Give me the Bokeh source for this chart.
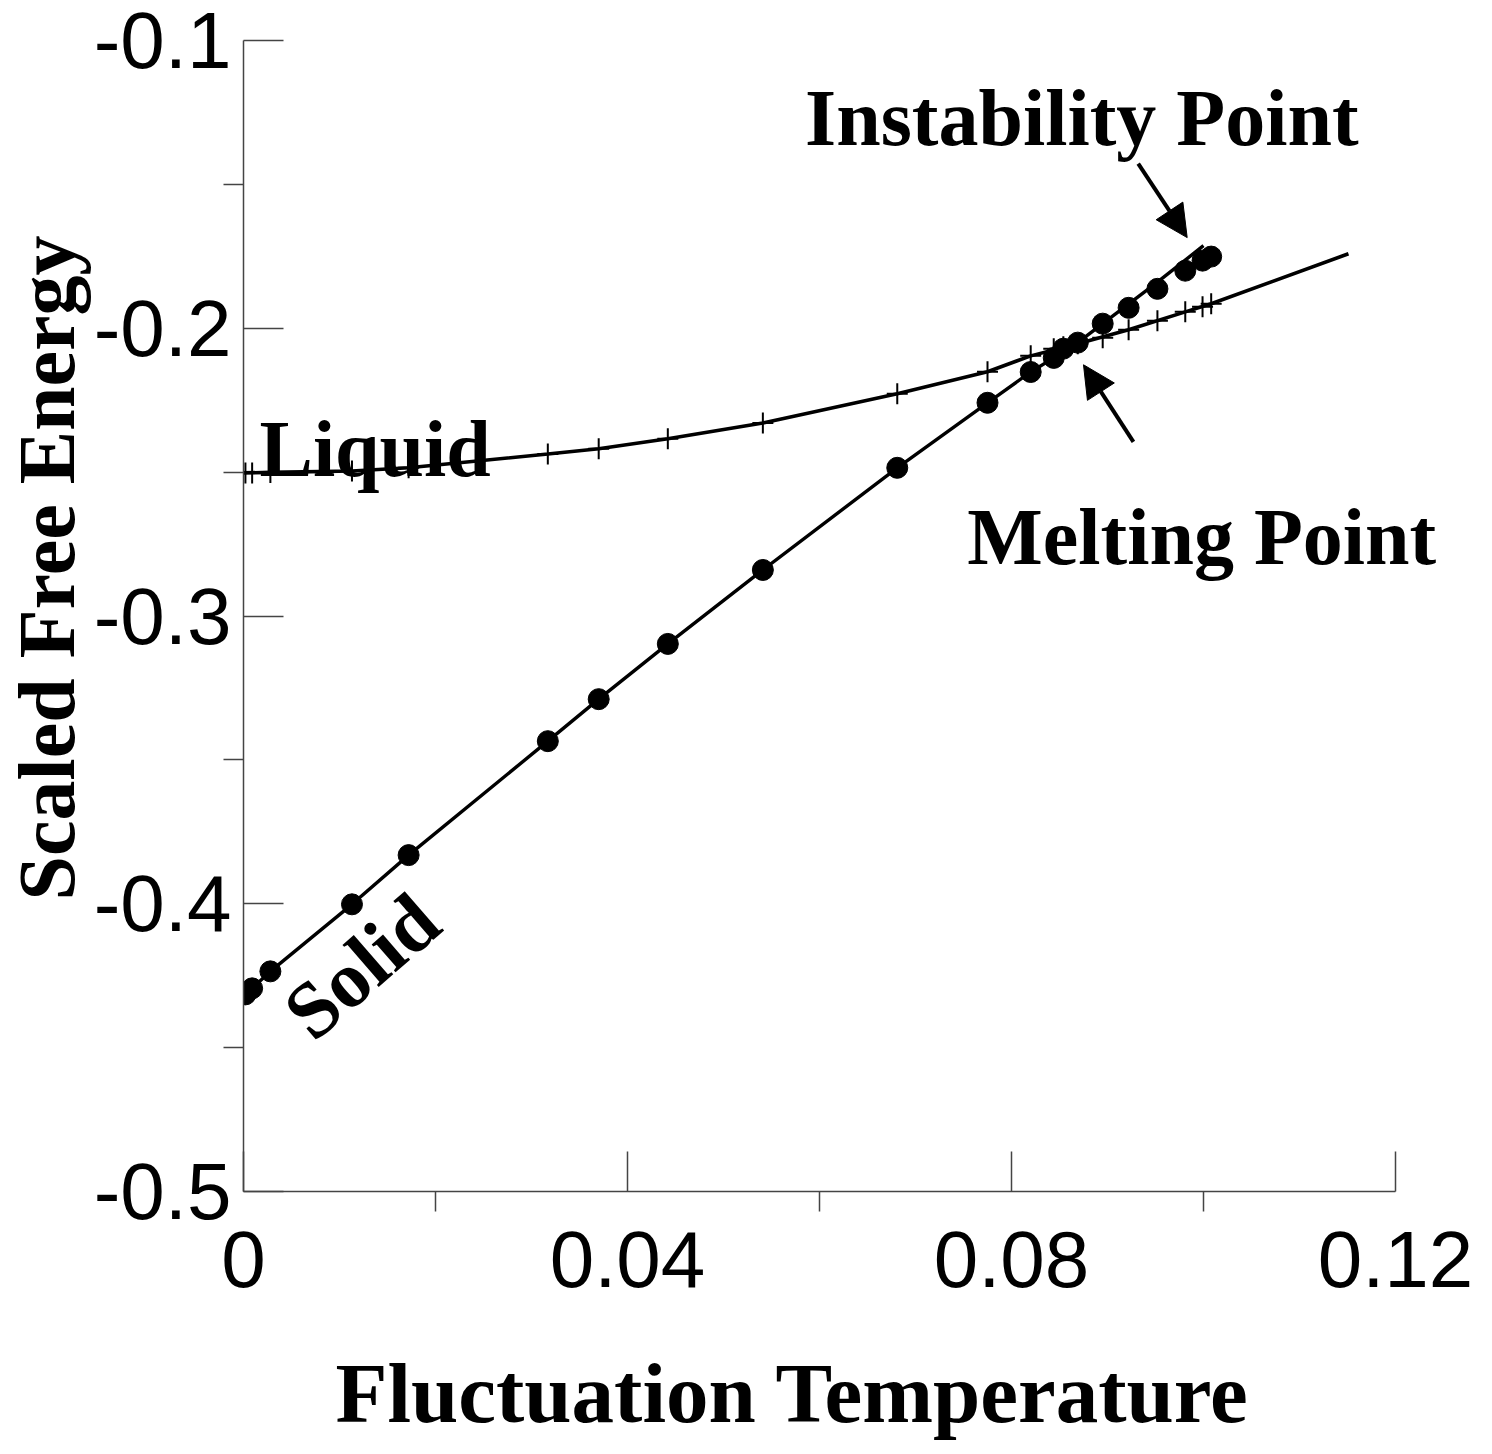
from bokeh.plotting import figure
from bokeh.models import (Range1d, FixedTicker, Label, Arrow, NormalHead, Title, LinearAxis)
from bokeh.embed import file_html
from bokeh.resources import INLINE

# Solid phase data (filled circles)
solid_t = [0.0002, 0.0009, 0.0028, 0.0113, 0.0172, 0.0317, 0.0370, 0.0442, 0.0541,
           0.0681, 0.0775, 0.0820, 0.0844, 0.0854, 0.0869, 0.0895, 0.0922, 0.0952,
           0.0981, 0.0999, 0.1008]
solid_f = [-0.4315, -0.4294, -0.4235, -0.4002, -0.3831, -0.3435, -0.3289, -0.3097, -0.2840,
           -0.2485, -0.2259, -0.2152, -0.2103, -0.2071, -0.2050, -0.1984, -0.1929, -0.1863,
           -0.1800, -0.1765, -0.1751]

# Solid phase curve
solid_curve_t = [0.0002, 0.0009, 0.0028, 0.0113, 0.0172, 0.0317, 0.0370, 0.0442, 0.0541,
                 0.0681, 0.0775, 0.0820, 0.0844, 0.0854, 0.0869, 0.0895, 0.0950, 0.1000]
solid_curve_f = [-0.4315, -0.4294, -0.4235, -0.4002, -0.3831, -0.3435, -0.3289, -0.3097, -0.2840,
                 -0.2485, -0.2259, -0.2152, -0.2103, -0.2071, -0.2050, -0.1984, -0.1845, -0.1713]

# Liquid phase data (crosses)
liquid_t = [0.0002, 0.0009, 0.0028, 0.0113, 0.0172, 0.0317, 0.0370, 0.0442, 0.0541,
            0.0681, 0.0775, 0.0820, 0.0844, 0.0854, 0.0869, 0.0895, 0.0922, 0.0952,
            0.0981, 0.0999, 0.1008]
liquid_f = [-0.2503, -0.2503, -0.2501, -0.2496, -0.2485, -0.2437, -0.2419, -0.2384, -0.2329,
            -0.2228, -0.2151, -0.2096, -0.2071, -0.2064, -0.2054, -0.2033, -0.2005, -0.1974,
            -0.1943, -0.1925, -0.1915]

# Liquid phase curve
liquid_curve_t = [-0.0008, 0.0028, 0.0113, 0.0172, 0.0317, 0.0370, 0.0442, 0.0541, 0.0681,
                  0.0775, 0.0820, 0.0869, 0.0922, 0.0981, 0.1008, 0.1151]
liquid_curve_f = [-0.2503, -0.2501, -0.2496, -0.2485, -0.2437, -0.2419, -0.2384, -0.2329, -0.2228,
                  -0.2151, -0.2096, -0.2054, -0.2005, -0.1943, -0.1915, -0.1741]

x_major = [0.0, 0.04, 0.08, 0.12]
x_minor = [0.02, 0.06, 0.10]
y_major = [-0.5, -0.4, -0.3, -0.2, -0.1]
y_minor = [-0.45, -0.35, -0.25, -0.15]

x_title = "Fluctuation Temperature"
y_title = "Scaled Free Energy"

p = figure(output_backend="svg", toolbar_location=None,
           x_range=Range1d(0.0, 0.13), y_range=Range1d(-0.5, -0.1),
           frame_width=1248, frame_height=1151,
           min_border_left=243, min_border_top=40, min_border_bottom=263, min_border_right=1)
p.outline_line_color = None
p.grid.visible = False
p.background_fill_color = "white"
p.border_fill_color = "white"

# Curves
p.line(liquid_curve_t, liquid_curve_f, line_color="black", line_width=3.6)
p.line(solid_curve_t, solid_curve_f, line_color="black", line_width=3.4)
p.scatter(liquid_t, liquid_f, marker="cross", size=21, line_color="black", line_width=2)
p.scatter(solid_t, solid_f, marker="circle", size=21, fill_color="black", line_color="black")

# Axes
for ax in (p.xaxis[0], p.yaxis[0]):
    ax.axis_line_color = "#444444"
    ax.axis_line_width = 1.5
    ax.major_tick_line_color = "#444444"
    ax.minor_tick_line_color = "#444444"
    ax.major_tick_line_width = 1.5
    ax.minor_tick_line_width = 1.5
    ax.major_tick_in = 40
    ax.major_tick_out = 0
    ax.minor_tick_in = 0
    ax.minor_tick_out = 20
    ax.major_label_text_font = "Liberation Sans"
    ax.major_label_text_font_size = "80px"
    ax.major_label_text_color = "black"

p.xaxis[0].ticker = FixedTicker(ticks=x_major, minor_ticks=x_minor)
p.yaxis[0].ticker = FixedTicker(ticks=y_major, minor_ticks=y_minor)
p.xaxis[0].bounds = (0.0, 0.12)
p.yaxis[0].bounds = (-0.5, -0.1)
p.xaxis[0].major_label_overrides = {0.0: "0", 0.04: "0.04", 0.08: "0.08", 0.12: "0.12"}
p.yaxis[0].major_label_overrides = {-0.5: "-0.5", -0.4: "-0.4", -0.3: "-0.3", -0.2: "-0.2", -0.1: "-0.1"}
p.xaxis[0].major_label_standoff = 20
p.yaxis[0].major_label_standoff = -8

# invisible spacer between the x tick labels and the x title
spacer = LinearAxis(ticker=FixedTicker(ticks=[0.06], minor_ticks=[]), axis_line_color=None,
                    major_tick_in=0, major_tick_out=56, minor_tick_in=0, minor_tick_out=0,
                    major_tick_line_color=None, minor_tick_line_color=None,
                    major_label_standoff=0, major_label_text_font_size="1px",
                    major_label_overrides={0.06: ""})
p.add_layout(spacer, "below")

# Axis titles (as side-panel titles so they can be positioned freely)
p.add_layout(Title(text=x_title, align="left", offset=92, vertical_align="top", standoff=0,
                   text_font="Liberation Serif", text_font_style="bold",
                   text_font_size="85px", text_color="black"), "below")
p.add_layout(Title(text=y_title, align="left", offset=291, vertical_align="bottom", standoff=0,
                   text_font="Liberation Serif", text_font_style="bold",
                   text_font_size="80px", text_color="black"), "left")

def lab(x, y, text, angle=0, align="left", baseline="alphabetic", size="80px"):
    p.add_layout(Label(x=x, y=y, text=text, angle=angle, angle_units="deg",
                       text_align=align, text_baseline=baseline,
                       text_font="Liberation Serif", text_font_style="bold",
                       text_font_size=size, text_color="black"))

# Annotations
lab(0.00167, -0.2419, "Liquid")
lab(0.0123, -0.4217, "Solid", angle=41, align="center", baseline="middle")
lab(0.0585, -0.1271, "Instability Point")
lab(0.0754, -0.2725, "Melting Point")

p.add_layout(Arrow(x_start=0.0932, y_start=-0.1428, x_end=0.0983, y_end=-0.1685,
                   line_width=4, line_color="black",
                   end=NormalHead(size=32, fill_color="black", line_color="black")))
p.add_layout(Arrow(x_start=0.0927, y_start=-0.2395, x_end=0.0875, y_end=-0.2127,
                   line_width=4, line_color="black",
                   end=NormalHead(size=32, fill_color="black", line_color="black")))

open("out.html", "w").write(file_html(p, INLINE))
